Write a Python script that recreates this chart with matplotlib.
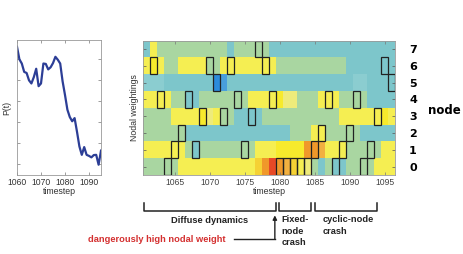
import numpy as np
import matplotlib
matplotlib.use('Agg')
import matplotlib.pyplot as plt
from matplotlib.colors import LinearSegmentedColormap
from matplotlib.patches import Rectangle
from matplotlib.transforms import blended_transform_factory

# left panel: P(t)
p_steps = list(range(1060, 1096))
p_vals = [5.6, 5.0, 4.8, 4.4, 4.35, 4.0, 3.85, 4.15, 4.55, 3.72,
          3.85, 4.8, 4.78, 4.52, 4.62, 4.82, 5.12, 4.98, 4.8, 3.95,
          3.3, 2.6, 2.25, 2.05, 2.2, 1.55, 0.85, 0.45, 0.82, 0.45,
          0.4, 0.33, 0.44, 0.45, -0.02, 0.65]

# heatmap: nodal weightings per timestep
steps = list(range(1061, 1097))
nodes = list(range(8))
B, B2, T, TL, G, PY, Y, BY, DY, LO, O, R = 0.5, 1.2, 2.5, 2.8, 4, 5.4, 6, 6.5, 7, 7.8, 8.2, 9.5

w0 = [G]*5 + [Y]*11 + [DY, O, R, O, LO, DY, Y, PY, G, T, G, T, T] + [G]*4 + [Y]*3
w1 = [Y]*6 + [G, T] + [G]*8 + [Y]*3 + [BY]*4 + [O, O, LO] + [Y]*3 + [G]*5 + [Y]*2
w2 = [G]*6 + [T]*15 + [G]*3 + [Y]*2 + [G]*5 + [T]*5
w3 = [G]*4 + [Y]*4 + [BY, PY, Y] + [G]*2 + [T]*4 + [G]*11 + [Y]*6 + [BY, Y]
w4 = [Y]*4 + [G]*2 + [T]*2 + [G]*7 + [Y]*4 + [BY] + [PY]*2 + [G]*3 + [Y]*3 + [G]*4 + [T]*4
w5 = [TL]*3 + [T]*7 + [B, B2] + [T]*18 + [TL]*2 + [T]*4
w6 = [Y, BY, Y] + [G]*2 + [Y]*4 + [G]*2 + [Y]*8 + [G]*10 + [T]*7
w7 = [T, Y] + [G]*10 + [T] + [G]*5 + [T]*18
weights = [w0, w1, w2, w3, w4, w5, w6, w7]

# node highlighted at each timestep (None = no box)
active = [None, 6, 4, 0, 1, 2, 4, 1, 3, 6, 5, 3, 6, 4, 1, 3, 7, 6,
          4, 0, 0, 0, 0, 0, 1, 2, 4, 0, 1, 2, 4, 0, 1, 3, 6, 5]

phases = [("Diffuse dynamics", 1060.6, 1079.4),
          ("Fixed-\nnode\ncrash", 1079.9, 1084.5),
          ("cyclic-node\ncrash", 1085.0, 1093.9)]

cmap = LinearSegmentedColormap.from_list('nw', [
    (0.0, '#1f7fd6'), (0.05, '#2d8cdc'), (0.12, '#4a9fdc'), (0.25, '#7dc6cb'),
    (0.28, '#8ccdd0'), (0.40, '#a9d6a1'), (0.54, '#eeeb7c'), (0.60, '#f5ee52'),
    (0.65, '#f7ea2c'), (0.70, '#f5d234'), (0.78, '#f2b040'), (0.82, '#f0982a'),
    (0.95, '#e84a26'), (1.0, '#d83a20')])

plt.rcParams['font.family'] = ['Liberation Sans', 'DejaVu Sans']
fig = plt.figure(figsize=(4.63, 2.54), dpi=100)

# --- left plot
ax1 = fig.add_axes([17/463, 1-175/254, 84/463, 135/254])
ax1.plot(p_steps, p_vals, color='#2c3e96', lw=1.6)
ax1.set_xlim(1060, 1095)
ax1.set_ylim(-0.51, 5.92)
ax1.set_xticks([1060, 1070, 1080, 1090])
ax1.set_yticks(range(6))
ax1.set_yticklabels([])
ax1.tick_params(direction='in', length=2.5, width=0.5, color='#777', labelsize=6.2,
                labelcolor='#333', top=True, right=True, pad=2)
ax1.set_xlabel('timestep', fontsize=6.3, color='#333', labelpad=0)
ax1.set_ylabel('P(t)', fontsize=6.3, color='#333', labelpad=2)
for s in ax1.spines.values():
    s.set_color('#999')
    s.set_linewidth(0.6)

# --- heatmap
ax = fig.add_axes([143.3/463, 1-175/254, 251.9/463, 134.5/254])
xe = np.arange(steps[0]-0.5, steps[-1]+1)
ye = np.arange(-0.5, 8)
ax.pcolormesh(xe, ye, np.array(weights), cmap=cmap, vmin=0, vmax=10)
for st, nd in zip(steps, active):
    if nd is not None:
        ax.add_patch(Rectangle((st-0.5, nd-0.5), 1, 1, fill=False, ec='#222', lw=0.9))
ax.set_xlim(xe[0], xe[-1])
ax.set_ylim(-0.5, 7.5)
ax.set_xticks(range(1065, 1096, 5))
ax.set_yticks(nodes)
ax.set_yticklabels([str(n) for n in nodes], fontweight='bold', fontsize=8, family='DejaVu Sans')
ax.tick_params(axis='x', direction='in', length=2.5, width=0.5, color='#777', labelsize=6.2,
               labelcolor='#444', top=True, pad=2)
ax.tick_params(axis='y', direction='in', length=2.5, width=0.5, color='#555', left=True,
               right=True, labelleft=False, labelright=True, pad=10)
ax.set_xlabel('timestep', fontsize=6.3, color='#333', labelpad=0)
ax.set_ylabel('Nodal weightings', fontsize=6.3, color='#333', labelpad=3)
ax.text(1.13, 0.483, 'node', transform=ax.transAxes, fontsize=8.5, fontweight='bold',
        family='DejaVu Sans', ha='left', va='center')
for s in ax.spines.values():
    s.set_color('#999')
    s.set_linewidth(0.6)

# --- phase brackets below heatmap
tr = blended_transform_factory(ax.transData, ax.transAxes)
for i, (name, a, b) in enumerate(phases):
    ax.plot([a, a, b, b], [-0.206, -0.265, -0.265, -0.206], color='#222', lw=1.1,
            transform=tr, clip_on=False)
    if i == 0:
        ax.text((a+b)/2, -0.335, name, transform=tr, ha='center', va='center',
                fontsize=6.7, fontweight='bold', color='#222')
    else:
        ax.text(a+0.4 + (0.7 if i == 2 else 0), -0.30, name, transform=tr, ha='left', va='top',
                fontsize=6.7, fontweight='bold', color='#222', linespacing=1.35)

ax.annotate('', xy=(1079.3, -0.30), xytext=(1079.3, -0.478), xycoords=tr,
            arrowprops=dict(arrowstyle='-|>', lw=1.0, color='#222', mutation_scale=6,
                            shrinkA=0, shrinkB=0), annotation_clip=False)
ax.plot([1073.5, 1079.3], [-0.478, -0.478], color='#222', lw=1.0, transform=tr, clip_on=False)
ax.text(1072.3, -0.478, 'dangerously high nodal weight', transform=tr, ha='right', va='center',
        fontsize=6.7, fontweight='bold', color='#d42f2f')

fig.savefig('out.png', dpi=100)
